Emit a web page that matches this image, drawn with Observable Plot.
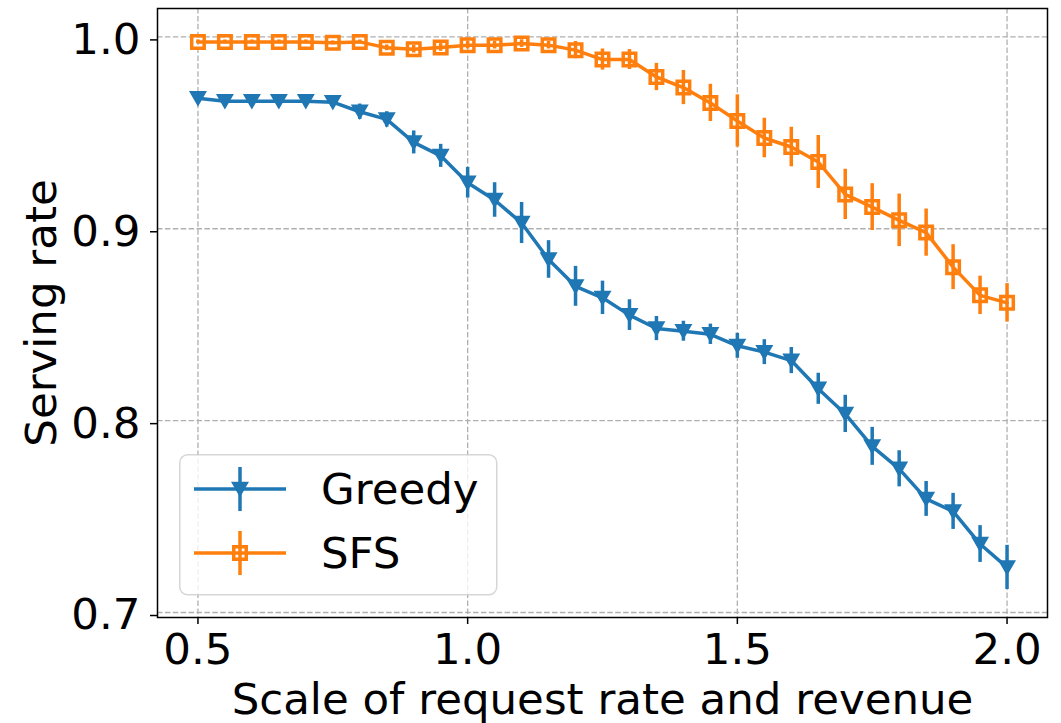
<!DOCTYPE html>
<html><head><meta charset="utf-8">
<script src="https://cdn.jsdelivr.net/npm/d3@7"></script>
<script src="https://cdn.jsdelivr.net/npm/@observablehq/plot@0.6"></script>
<style>
body{margin:0;background:white;}
#wrap{position:relative;width:1061px;height:723px;}
#legend{position:absolute;left:179px;top:454px;}
</style>
</head><body><div id="wrap"></div>
<script>
const xValues = [0.5,0.55,0.6,0.65,0.7,0.75,0.8,0.85,0.9,0.95,1.0,1.05,1.1,1.15,1.2,1.25,1.3,1.35,1.4,1.45,1.5,1.55,1.6,1.65,1.7,1.75,1.8,1.85,1.9,1.95,2.0];
const greedyMean = [0.968,0.9665,0.9665,0.9665,0.9665,0.966,0.961,0.957,0.945,0.938,0.924,0.915,0.903,0.884,0.870,0.864,0.855,0.848,0.8466,0.845,0.839,0.8357,0.8313,0.8166,0.8035,0.7866,0.7749,0.7592,0.7527,0.7357,0.7235];
const greedyErr = [0.001,0.001,0.001,0.001,0.001,0.002,0.004,0.004,0.006,0.006,0.008,0.009,0.0107,0.0098,0.0104,0.0087,0.008,0.0063,0.0052,0.0053,0.0065,0.0065,0.0068,0.0081,0.0097,0.0099,0.0094,0.0091,0.0094,0.0096,0.0115];
const sfsMean = [0.9974,0.9974,0.9974,0.9974,0.9974,0.9969,0.9974,0.9943,0.9936,0.9945,0.9957,0.9957,0.9965,0.9957,0.9931,0.9882,0.9882,0.9791,0.9736,0.9656,0.9562,0.9473,0.9426,0.9348,0.9179,0.9113,0.9044,0.898,0.880,0.8653,0.8614];
const sfsErr = [0.001,0.001,0.001,0.001,0.001,0.001,0.001,0.0015,0.002,0.002,0.002,0.002,0.002,0.002,0.0045,0.0055,0.0052,0.0071,0.0089,0.0097,0.0136,0.0103,0.0103,0.0138,0.0131,0.0122,0.0137,0.0123,0.0117,0.010,0.010];
const seriesNames = ["Greedy","SFS"];
const xTicks = [0.5,1.0,1.5,2.0];
const yTicks = [0.7,0.8,0.9,1.0];
const xLabel = "Scale of request rate and revenue";
const yLabel = "Serving rate";

const blue = "#1f77b4", orange = "#ff7f0e";
const FONT = "DejaVu Sans";
const FS = 43.5;
const greedyData = xValues.map((x,i)=>({x, y:greedyMean[i], e:greedyErr[i]}));
const sfsData = xValues.map((x,i)=>({x, y:sfsMean[i], e:sfsErr[i]}));
const gridStyle = {stroke:"#b0b0b0", strokeWidth:1.3, strokeDasharray:"5.5,2.4"};
const triR = 5.7, sqR = 7.05;

const chart = Plot.plot({
  width:1061, height:723,
  marginLeft:157, marginRight:14, marginTop:8, marginBottom:106,
  x:{domain:[0.425,2.075]},
  y:{domain:[0.6974,1.0148]},
  style:{fontFamily:FONT, fontSize:FS+"px", color:"black", background:"white", overflow:"visible"},
  marks:[
    Plot.ruleX(xTicks, gridStyle),
    Plot.ruleY(yTicks, gridStyle),
    Plot.line(greedyData,{x:"x",y:"y",stroke:blue,strokeWidth:3.5}),
    Plot.dot(greedyData,{x:"x",y:"y",symbol:"triangle",rotate:180,r:triR,fill:blue,stroke:blue,strokeWidth:1.5,dy:-2}),
    Plot.ruleX(greedyData,{x:"x",y1:d=>d.y-d.e,y2:d=>d.y+d.e,stroke:blue,strokeWidth:3.5}),
    Plot.line(sfsData,{x:"x",y:"y",stroke:orange,strokeWidth:3.5}),
    Plot.dot(sfsData,{x:"x",y:"y",symbol:"square",r:sqR,fill:"none",stroke:orange,strokeWidth:3.5}),
    Plot.ruleX(sfsData,{x:"x",y1:d=>d.y-d.e,y2:d=>d.y+d.e,stroke:orange,strokeWidth:3.5}),
    Plot.frame({stroke:"black",strokeWidth:1.5}),
    Plot.axisX({ticks:xTicks,tickFormat:d3.format(".1f"),tickSize:7,tickPadding:9,strokeWidth:1.5,fontSize:FS,label:null}),
    Plot.axisY({ticks:yTicks,tickFormat:d3.format(".1f"),tickSize:7,tickPadding:10,strokeWidth:1.5,fontSize:FS,dy:3,label:null}),
    Plot.text([xLabel],{frameAnchor:"bottom",dy:96,lineAnchor:"bottom",textAnchor:"middle",fontSize:FS,fill:"black"}),
    Plot.text([yLabel],{frameAnchor:"left",dx:-102,rotate:-90,lineAnchor:"bottom",textAnchor:"middle",fontSize:FS,fill:"black"})
  ]
});
const wrap = document.getElementById("wrap");
wrap.appendChild(chart);

// legend overlay
const lg = d3.create("svg").attr("id","legend").attr("width",320).attr("height",143)
  .style("font-family",FONT);
lg.append("rect").attr("x",0.75).attr("y",0.75).attr("width",317).attr("height",140)
  .attr("rx",8).attr("fill","white").attr("fill-opacity",0.8)
  .attr("stroke","#cccccc").attr("stroke-opacity",0.8).attr("stroke-width",1.5);
const items = [
  {name:seriesNames[0], color:blue, cy:35, kind:"tri"},
  {name:seriesNames[1], color:orange, cy:99, kind:"sq"}
];
items.forEach(it=>{
  const g = lg.append("g");
  g.append("line").attr("x1",15).attr("x2",107).attr("y1",it.cy).attr("y2",it.cy)
    .attr("stroke",it.color).attr("stroke-width",3.5);
  if (it.kind==="tri") {
    g.append("path").attr("d",d3.symbol(d3.symbolTriangle, triR*triR*Math.PI)())
      .attr("transform",`translate(61,${it.cy-2}) rotate(180)`)
      .attr("fill",it.color).attr("stroke",it.color).attr("stroke-width",1.5);
  } else {
    g.append("path").attr("d",d3.symbol(d3.symbolSquare, sqR*sqR*Math.PI)())
      .attr("transform",`translate(61,${it.cy})`)
      .attr("fill","none").attr("stroke",it.color).attr("stroke-width",3.5);
  }
  g.append("line").attr("x1",61).attr("x2",61).attr("y1",it.cy-22).attr("y2",it.cy+22)
    .attr("stroke",it.color).attr("stroke-width",3.5);
  g.append("text").attr("x",142).attr("y",it.cy+15).attr("font-size",FS).attr("fill","black").text(it.name);
});
wrap.appendChild(lg.node());
</script>
</body></html>
